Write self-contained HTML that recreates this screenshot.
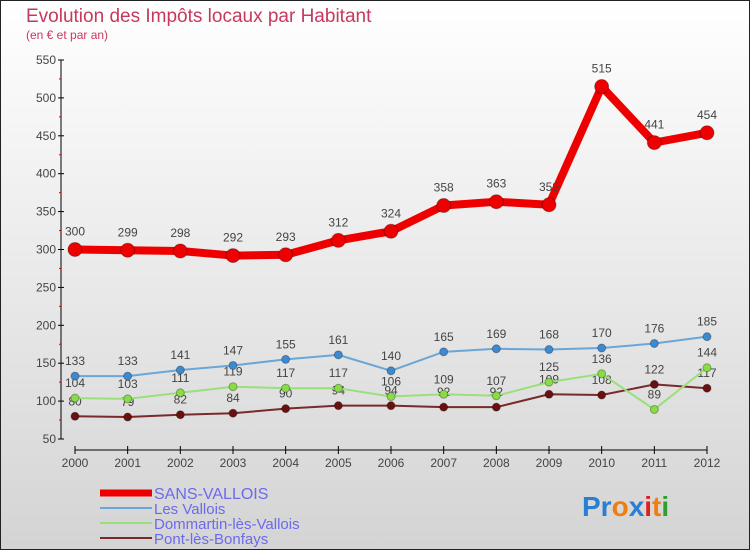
<!DOCTYPE html>
<html><head><meta charset="utf-8"><style>
body{margin:0}
svg{display:block;font-family:"Liberation Sans",sans-serif}
</style></head><body>
<svg id="c" width="750" height="550">
<defs><linearGradient id="bg" x1="0" y1="0" x2="0" y2="1"><stop offset="0" stop-color="#ffffff"/><stop offset="1" stop-color="#d4d4d4"/></linearGradient></defs>
<rect x="0.5" y="0.5" width="749" height="549" fill="url(#bg)" stroke="#222"/>
<text x="26" y="22" font-size="19" fill="#c8385e">Evolution des Impôts locaux par Habitant</text>
<text x="26" y="39" font-size="12" fill="#c8385e">(en € et par an)</text>
<g id="axes"></g><g id="series"></g><g id="legend"></g>
<text x="582" y="516" font-size="28" font-weight="bold"><tspan fill="#2a7fd4">Pr</tspan><tspan fill="#f07d10">o</tspan><tspan fill="#2a7fd4">x</tspan><tspan fill="#e02020">i</tspan><tspan fill="#f07d10">t</tspan><tspan fill="#2fa02f">i</tspan></text>
</svg>
<script>
const years=[2000,2001,2002,2003,2004,2005,2006,2007,2008,2009,2010,2011,2012];
const yTicks=[50,100,150,200,250,300,350,400,450,500,550];
const sansVallois=[300,299,298,292,293,312,324,358,363,359,515,441,454];
const lesVallois=[133,133,141,147,155,161,140,165,169,168,170,176,185];
const dommartin=[104,103,111,119,117,117,106,109,107,125,136,89,144];
const pontBonfays=[80,79,82,84,90,94,94,92,92,109,108,122,117];
const NS="http://www.w3.org/2000/svg";
function x(i){return 75+i*(707-75)/12;}
function y(v){return 439-(v-50)*(439-60)/500;}
function mk(t,a,p){const e=document.createElementNS(NS,t);for(const k in a)e.setAttribute(k,a[k]);p.appendChild(e);return e;}
const ax=document.getElementById('axes');
mk('line',{x1:61,y1:60,x2:61,y2:439,stroke:'#000'},ax);
mk('line',{x1:75,y1:450,x2:707,y2:450,stroke:'#000'},ax);
yTicks.forEach(v=>{
 mk('line',{x1:58,y1:y(v),x2:64,y2:y(v),stroke:'#000'},ax);
 if(v<550)mk('line',{x1:59,y1:y(v+25),x2:61,y2:y(v+25),stroke:'#d00'},ax);
 const t=mk('text',{x:56,y:y(v)+4,'font-size':12,fill:'#444','text-anchor':'end'},ax);
 
 
 t.textContent=v;
});
years.forEach((yr,i)=>{
 mk('line',{x1:x(i),y1:446,x2:x(i),y2:454,stroke:'#000'},ax);
 const t=mk('text',{x:x(i),y:467,'font-size':12,fill:'#444','text-anchor':'middle'},ax);
 
 
 t.textContent=yr;
});
const S=document.getElementById('series');
const defs=[
 {name:'pont-les-bonfays',data:pontBonfays,c:'#7a2a2a',dot:'#6a1010',w:2,r:4},
 {name:'dommartin-les-vallois',data:dommartin,c:'#99e07a',dot:'#88dd44',w:2,r:4},
 {name:'les-vallois',data:lesVallois,c:'#6aa6d6',dot:'#3d8ad0',w:2,r:4},
 {name:'sans-vallois',data:sansVallois,c:'#ee0000',dot:'#ee0000',w:8,r:7}
];
defs.forEach(s=>{
 const l=mk('polyline',{points:s.data.map((v,i)=>x(i)+','+y(v)).join(' '),fill:'none',stroke:s.c,'stroke-width':s.w,'stroke-linejoin':'round'},S);
 
 
 s.data.forEach((v,i)=>{
  const c=mk('circle',{cx:x(i),cy:y(v),r:s.r,fill:s.dot,stroke:'rgba(0,0,0,0.3)'},S);
  
  
  const t=mk('text',{x:x(i),y:y(v)-(s.r+7),'font-size':12,fill:'#444','text-anchor':'middle'},S);
  
  
  t.textContent=v;
 });
});
const L=document.getElementById('legend');
const leg=[['SANS-VALLOIS','#ee0000',7],['Les Vallois','#6aa6d6',2],['Dommartin-lès-Vallois','#99e07a',2],['Pont-lès-Bonfays','#7a2a2a',2]];
leg.forEach((e,i)=>{
 const yy=493+i*15;
 const r=mk('line',{x1:100,y1:yy,x2:152,y2:yy,stroke:e[1],'stroke-width':e[2]},L);
 
 
 const t=mk('text',{x:154,y:yy+6,'font-size':i==0?16:15,fill:'#6a6aee'},L);
 
 
 t.textContent=e[0];
});
</script>
</body></html>
